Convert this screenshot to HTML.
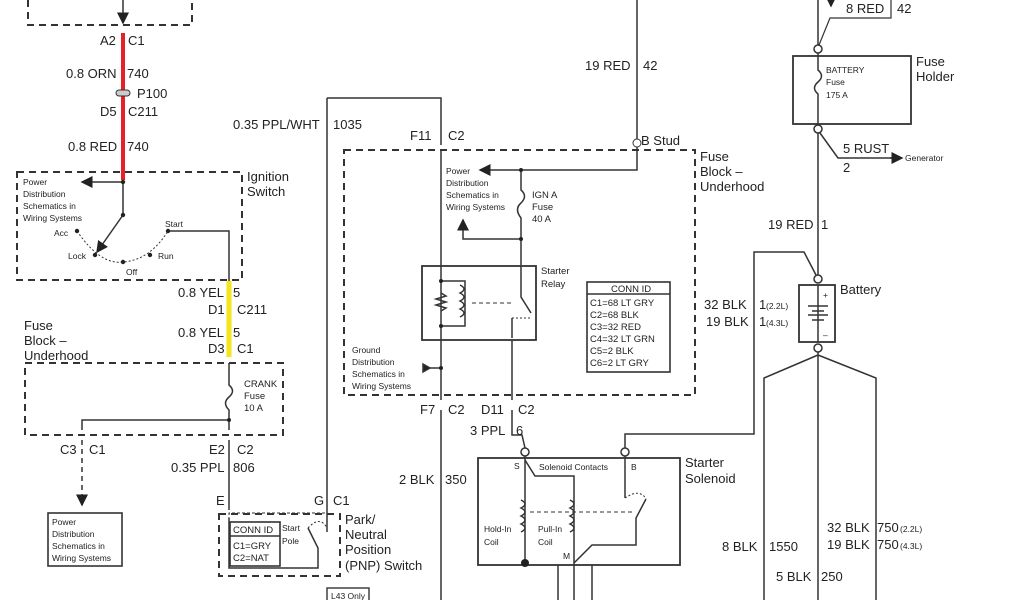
<!DOCTYPE html>
<html><head><meta charset="utf-8"><style>
html,body{margin:0;padding:0;background:#fff;}
svg{display:block;font-family:"Liberation Sans",Arial,sans-serif;}
.l{font-size:13px;fill:#222;}
.s{font-size:8.5px;fill:#222;}
.m{font-size:9.5px;fill:#222;}
</style></head><body>
<svg width="1024" height="600" viewBox="0 0 1024 600" xmlns="http://www.w3.org/2000/svg">
<defs><marker id="a" markerWidth="8" markerHeight="8" refX="7" refY="4" orient="auto"><path d="M0,0 L8,4 L0,8 z" fill="#222"/></marker></defs>
<g fill="none" stroke="#333" stroke-width="1.5">
<path d="M28,0 V25 H192 V0" stroke-dasharray="7,5" stroke-width="2"/>
<line x1="123" y1="0" x2="123" y2="23" marker-end="url(#a)"/>
<rect x="17" y="172" width="225" height="108" stroke-dasharray="7,5" stroke-width="2"/>
<line x1="123" y1="182" x2="82" y2="182" marker-end="url(#a)"/>
<line x1="123" y1="180" x2="123" y2="215"/>
<line x1="123" y1="215" x2="97" y2="252" marker-end="url(#a)"/>
<path d="M77,231 Q100,265 123,262 Q150,260 168,231" stroke-dasharray="2,2" stroke-width="1"/>
<path d="M168,231 H229 V282"/>
<rect x="25" y="363" width="258" height="72" stroke-dasharray="7,5" stroke-width="2"/>
<path d="M229,363 V385 Q236,391 229,397 Q222,403 229,410 V430"/>
<path d="M229,420 H82 V430"/>
<path d="M82,440 V505" stroke-dasharray="5,4"/>
<line x1="82" y1="495" x2="82" y2="505" marker-end="url(#a)"/>
<rect x="48" y="513" width="74" height="53" stroke-width="1.6"/>
<line x1="229" y1="440" x2="229" y2="510"/>
<rect x="219" y="514" width="121" height="62" stroke-dasharray="7,5" stroke-width="2"/>
<path d="M229,520 V513 H327" stroke-dasharray="3,2" stroke-width="1"/>
<rect x="230" y="522" width="50" height="44" stroke-width="1.6"/>
<line x1="230" y1="536" x2="280" y2="536"/>
<path d="M229,518 V568 H318 V548 L308,528"/>
<path d="M308,528 Q320,515 327,528" stroke-dasharray="2,2" stroke-width="1"/>
<line x1="327" y1="98" x2="327" y2="532"/>
<path d="M327,98 H441 V145"/>
<rect x="344" y="150" width="351" height="245" stroke-dasharray="7,5" stroke-width="2"/>
<line x1="637" y1="0" x2="637" y2="139"/>
<path d="M637,147 V170 H521"/>
<line x1="521" y1="170" x2="480" y2="170" marker-end="url(#a)"/>
<path d="M521,170 V190 Q528,196 521,203 Q514,209 521,218 V265"/>
<path d="M521,239 H463 V220"/>
<line x1="463" y1="230" x2="463" y2="220" marker-end="url(#a)"/>
<line x1="441" y1="150" x2="441" y2="400"/>
<rect x="422" y="266" width="114" height="74" stroke-width="1.8"/>
<path d="M441,281 H465 V326 H441"/>
<path d="M441,293 l5,3 -10,3 10,3 -10,3 10,3 -5,3"/>
<path d="M460,285 q8,4 0,8 q8,4 0,8 q8,4 0,8 q8,4 0,8"/>
<line x1="472" y1="303" x2="512" y2="303" stroke-dasharray="4,3" stroke-width="1"/>
<path d="M521,266 V297 L531,313"/>
<path d="M512,318 V338"/><path d="M512,318 H531" stroke-dasharray="2,2" stroke-width="1"/>
<line x1="512" y1="340" x2="512" y2="400"/>
<line x1="423" y1="368" x2="441" y2="368"/>
<path d="M423,364 L430,368 L423,372 z" fill="#222"/>
<rect x="587" y="282" width="83" height="90" stroke-width="1.6"/>
<line x1="587" y1="294" x2="670" y2="294"/>
<line x1="441" y1="410" x2="441" y2="600"/>
<path d="M512,410 V435 H522 L525,448"/>
<circle cx="525" cy="452" r="4" fill="#fff"/>
<circle cx="625" cy="452" r="4" fill="#fff"/>
<path d="M625,448 V434 H754 V252 H804 L816,275"/>
<rect x="478" y="458" width="202" height="107" stroke-width="1.8"/>
<path d="M525,456 V565"/>
<path d="M525,460 L535,476 H574 V565"/>
<path d="M521,500 q8,4 0,8 q8,4 0,8 q8,4 0,8 q8,4 0,8"/>
<path d="M570,500 q8,4 0,8 q8,4 0,8 q8,4 0,8 q8,4 0,8"/>
<line x1="530" y1="512" x2="635" y2="512" stroke-dasharray="4,3" stroke-width="1"/>
<path d="M625,456 V498"/>
<path d="M625,498 Q640,488 646,499" stroke-dasharray="2,2" stroke-width="1"/>
<path d="M646,499 L636,518 V545 H592 L574,563"/>
<line x1="558" y1="565" x2="558" y2="600"/><line x1="574" y1="565" x2="574" y2="600"/><line x1="592" y1="565" x2="592" y2="600"/>
<!-- right column -->
<line x1="818" y1="0" x2="818" y2="45"/>
<path d="M819,45 L830,18 H891 V0" stroke-width="1.2"/>
<line x1="831" y1="0" x2="831" y2="6" marker-end="url(#a)"/>
<circle cx="818" cy="49" r="4" fill="#fff"/>
<rect x="793" y="56" width="118" height="68" stroke-width="1.8"/>
<path d="M818,53 V70 Q825,76 818,82 Q811,88 818,94 V125"/>
<circle cx="818" cy="129" r="4" fill="#fff"/>
<path d="M818,133 V275"/>
<path d="M820,133 L838,158 H893"/>
<line x1="890" y1="158" x2="902" y2="158" marker-end="url(#a)"/>
<circle cx="818" cy="279" r="4" fill="#fff"/>
<rect x="799" y="285" width="36" height="57" stroke-width="1.8"/>
<path d="M818,285 V342 M808,306 H828 M812,311 H824 M808,315 H828 M812,320 H824"/>
<circle cx="818" cy="348" r="4" fill="#fff"/>
<path d="M818,352 V600 M818,355 L764,378 V600 M818,355 L876,378 V600"/>
</g>
<line x1="123" y1="33" x2="123" y2="180" stroke="#e8202a" stroke-width="4"/>
<line x1="229" y1="281" x2="229" y2="357" stroke="#f3e61a" stroke-width="5"/>
<rect x="116" y="90" width="14" height="6" rx="3" fill="#ccc" stroke="#333"/>
<g fill="#222" stroke="none">
<circle cx="123" cy="182" r="2.2"/><circle cx="123" cy="215" r="2.2"/>
<circle cx="77" cy="231" r="2.2"/><circle cx="95" cy="255" r="2.2"/><circle cx="123" cy="262" r="2.2"/><circle cx="150" cy="255" r="2.2"/><circle cx="168" cy="231" r="2.2"/>
<circle cx="229" cy="420" r="2"/><circle cx="521" cy="170" r="2"/><circle cx="521" cy="239" r="2"/><circle cx="441" cy="368" r="2"/>
<circle cx="441" cy="281" r="2"/><circle cx="441" cy="326" r="2"/><circle cx="525" cy="563" r="4"/>
<circle cx="637" cy="143" r="4" fill="#fff" stroke="#333"/>
</g>
<g class="l">
<text x="100" y="45">A2</text><text x="128" y="45">C1</text>
<text x="66" y="78">0.8 ORN</text><text x="127" y="78">740</text>
<text x="137" y="98">P100</text>
<text x="100" y="116">D5</text><text x="128" y="116">C211</text>
<text x="68" y="151">0.8 RED</text><text x="127" y="151">740</text>
<text x="247" y="181">Ignition</text><text x="247" y="196">Switch</text>
<text x="178" y="297">0.8 YEL</text><text x="233" y="297">5</text>
<text x="208" y="314">D1</text><text x="237" y="314">C211</text>
<text x="178" y="337">0.8 YEL</text><text x="233" y="337">5</text>
<text x="208" y="353">D3</text><text x="237" y="353">C1</text>
<text x="24" y="330">Fuse</text><text x="24" y="345">Block –</text><text x="24" y="360">Underhood</text>
<text x="60" y="454">C3</text><text x="89" y="454">C1</text>
<text x="209" y="454">E2</text><text x="237" y="454">C2</text>
<text x="171" y="472">0.35 PPL</text><text x="233" y="472">806</text>
<text x="216" y="505">E</text><text x="314" y="505">G</text><text x="333" y="505">C1</text>
<text x="345" y="524">Park/</text><text x="345" y="539">Neutral</text><text x="345" y="554">Position</text><text x="345" y="570">(PNP) Switch</text>
<text x="233" y="129">0.35 PPL/WHT</text><text x="333" y="129">1035</text>
<text x="410" y="140">F11</text><text x="448" y="140">C2</text>
<text x="585" y="70">19 RED</text><text x="643" y="70">42</text>
<text x="641" y="145">B Stud</text>
<text x="700" y="161">Fuse</text><text x="700" y="176">Block –</text><text x="700" y="191">Underhood</text>
<text x="420" y="414">F7</text><text x="448" y="414">C2</text>
<text x="481" y="414">D11</text><text x="518" y="414">C2</text>
<text x="470" y="435">3 PPL</text><text x="516" y="435">6</text>
<text x="399" y="484">2 BLK</text><text x="445" y="484">350</text>
<text x="685" y="467">Starter</text><text x="685" y="483">Solenoid</text>
<text x="846" y="13">8 RED</text><text x="897" y="13">42</text>
<text x="916" y="66">Fuse</text><text x="916" y="81">Holder</text>
<text x="843" y="153">5 RUST</text><text x="843" y="172">2</text>
<text x="768" y="229">19 RED</text><text x="821" y="229">1</text>
<text x="840" y="294">Battery</text>
<text x="704" y="309">32 BLK</text><text x="759" y="309">1</text>
<text x="706" y="326">19 BLK</text><text x="759" y="326">1</text>
<text x="722" y="551">8 BLK</text><text x="769" y="551">1550</text>
<text x="827" y="532">32 BLK</text><text x="877" y="532">750</text>
<text x="827" y="549">19 BLK</text><text x="877" y="549">750</text>
<text x="776" y="581">5 BLK</text><text x="821" y="581">250</text>
</g>
<g class="m">
<text x="244" y="387">CRANK</text><text x="244" y="399">Fuse</text><text x="244" y="411">10 A</text>
<text x="532" y="198">IGN A</text><text x="532" y="210">Fuse</text><text x="532" y="222">40 A</text>
<text x="541" y="274">Starter</text><text x="541" y="287">Relay</text>
<text x="611" y="292">CONN ID</text>
<text x="590" y="306">C1=68 LT GRY</text><text x="590" y="318">C2=68 BLK</text><text x="590" y="330">C3=32 RED</text><text x="590" y="342">C4=32 LT GRN</text><text x="590" y="354">C5=2 BLK</text><text x="590" y="366">C6=2 LT GRY</text>
<text x="233" y="533">CONN ID</text><text x="233" y="549">C1=GRY</text><text x="233" y="561">C2=NAT</text>
</g>
<g class="s">
<text x="23" y="185">Power</text><text x="23" y="197">Distribution</text><text x="23" y="209">Schematics in</text><text x="23" y="221">Wiring Systems</text>
<text x="54" y="236">Acc</text><text x="68" y="259">Lock</text><text x="126" y="275">Off</text><text x="158" y="259">Run</text><text x="165" y="227">Start</text>
<text x="52" y="525">Power</text><text x="52" y="537">Distribution</text><text x="52" y="549">Schematics in</text><text x="52" y="561">Wiring Systems</text>
<text x="282" y="531">Start</text><text x="282" y="544">Pole</text>
<text x="446" y="174">Power</text><text x="446" y="186">Distribution</text><text x="446" y="198">Schematics in</text><text x="446" y="210">Wiring Systems</text>
<text x="352" y="353">Ground</text><text x="352" y="365">Distribution</text><text x="352" y="377">Schematics in</text><text x="352" y="389">Wiring Systems</text>
<text x="514" y="469">S</text><text x="539" y="470">Solenoid Contacts</text><text x="631" y="470">B</text>
<text x="484" y="532">Hold-In</text><text x="484" y="545">Coil</text>
<text x="538" y="532">Pull-In</text><text x="538" y="545">Coil</text>
<text x="563" y="559">M</text>
<text x="826" y="73">BATTERY</text><text x="826" y="85">Fuse</text><text x="826" y="98">175 A</text>
<text x="905" y="161">Generator</text>
<text x="823" y="298">+</text><text x="823" y="338">–</text>
<text x="766" y="309">(2.2L)</text><text x="766" y="326">(4.3L)</text>
<text x="900" y="532">(2.2L)</text><text x="900" y="549">(4.3L)</text>
</g>
<rect x="327" y="588" width="42" height="14" fill="#fff" stroke="#333" stroke-width="1.4"/>
<text x="331" y="599" class="s">L43 Only</text>
</svg>
</body></html>
